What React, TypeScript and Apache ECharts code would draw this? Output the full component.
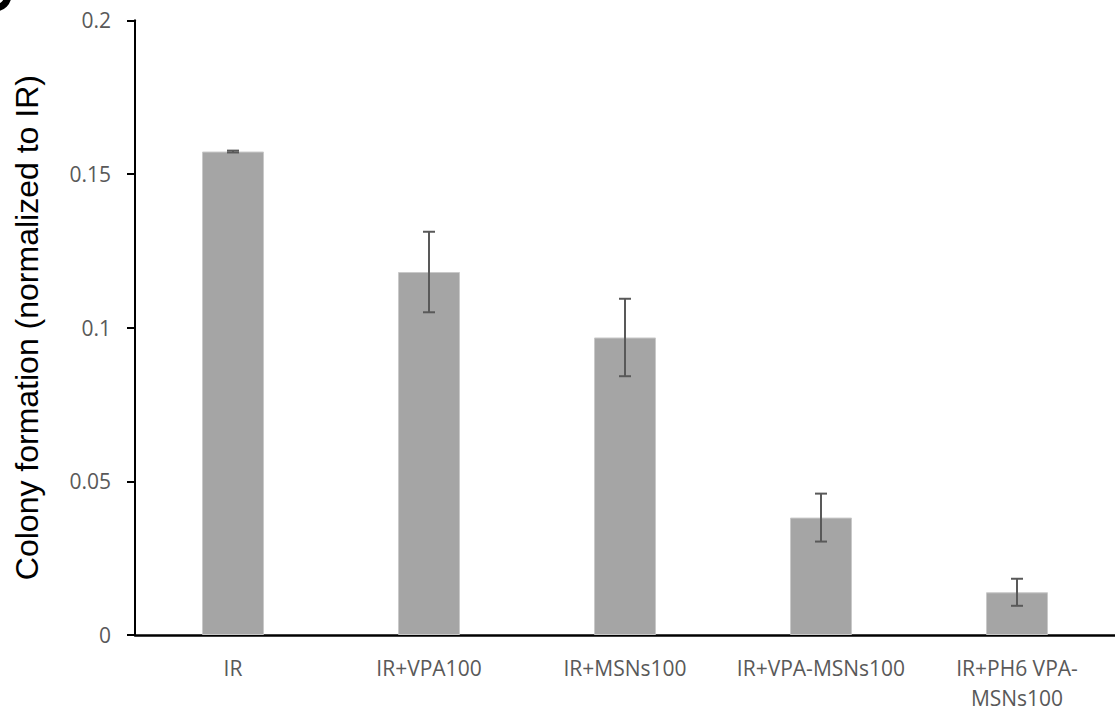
import React, { useEffect, useRef } from "react";
import * as echarts from "echarts";

const categories = ["IR", "IR+VPA100", "IR+MSNs100", "IR+VPA-MSNs100", "IR+PH6 VPA-\nMSNs100"];
const values = [0.1573, 0.1181, 0.0968, 0.0382, 0.0139];
const errors = [0.0003, 0.0131, 0.0126, 0.0078, 0.0044];
const yTicks = { min: 0, max: 0.2, interval: 0.05 };
const yAxisTitle = "Colony formation (normalized to IR)";

export default function App() {
  const ref = useRef<HTMLDivElement>(null);
  useEffect(() => {
    if (!ref.current) return;
    const chart = echarts.init(ref.current, undefined, { renderer: "svg" });
    const errData = values.map((v, i) => [i, v - errors[i], v + errors[i]]);
    chart.setOption({
      animation: false,
      backgroundColor: "#fff",
      grid: { left: 135, top: 20.3, width: 986, height: 618 },
      xAxis: {
        type: "category",
        data: categories,
        axisLine: { lineStyle: { color: "#000", width: 2.5 } },
        axisTick: { show: false },
        axisLabel: {
          interval: 0,
          margin: 18,
          fontSize: 21,
          lineHeight: 30,
          color: "#595959",
          fontFamily: "Open Sans",
        },
      },
      yAxis: {
        type: "value",
        min: yTicks.min,
        max: yTicks.max,
        interval: yTicks.interval,
        name: yAxisTitle,
        nameLocation: "middle",
        nameGap: 92,
        nameTextStyle: { fontSize: 32, color: "#000", fontFamily: "Liberation Sans" },
        splitLine: { show: false },
        axisLine: { show: true, lineStyle: { color: "#000", width: 2 } },
        axisTick: { show: true, length: 8, lineStyle: { color: "#000", width: 2 } },
        axisLabel: { margin: 24, fontSize: 21, color: "#595959", fontFamily: "Open Sans" },
      },
      graphic: [
        {
          type: "arc",
          shape: { cx: -5, cy: -5, r: 13, startAngle: 0, endAngle: Math.PI / 2 },
          style: { stroke: "#000", lineWidth: 7, fill: "none" },
        },
      ],
      series: [
        {
          type: "bar",
          data: values,
          barWidth: 62,
          itemStyle: { color: "#a5a5a5", borderColor: "#c9c9c9", borderWidth: 1 },
        },
        {
          type: "custom",
          data: errData,
          z: 10,
          renderItem: (params: any, api: any) => {
            const x = api.value(0);
            const lo = api.coord([x, api.value(1)]);
            const hi = api.coord([x, api.value(2)]);
            const hw = 6;
            const style = { stroke: "#595959", lineWidth: 2 };
            return {
              type: "group",
              children: [
                { type: "line", shape: { x1: lo[0], y1: lo[1], x2: hi[0], y2: hi[1] }, style },
                { type: "line", shape: { x1: lo[0] - hw, y1: lo[1], x2: lo[0] + hw, y2: lo[1] }, style },
                { type: "line", shape: { x1: hi[0] - hw, y1: hi[1], x2: hi[0] + hw, y2: hi[1] }, style },
              ],
            };
          },
        },
      ],
    });
    return () => chart.dispose();
  }, []);
  return (
    <div style={{ position: "fixed", left: 0, top: 0, width: 1115, height: 713, overflow: "hidden", background: "#fff" }}>
      <div ref={ref} style={{ width: 1115, height: 713 }} />
    </div>
  );
}
